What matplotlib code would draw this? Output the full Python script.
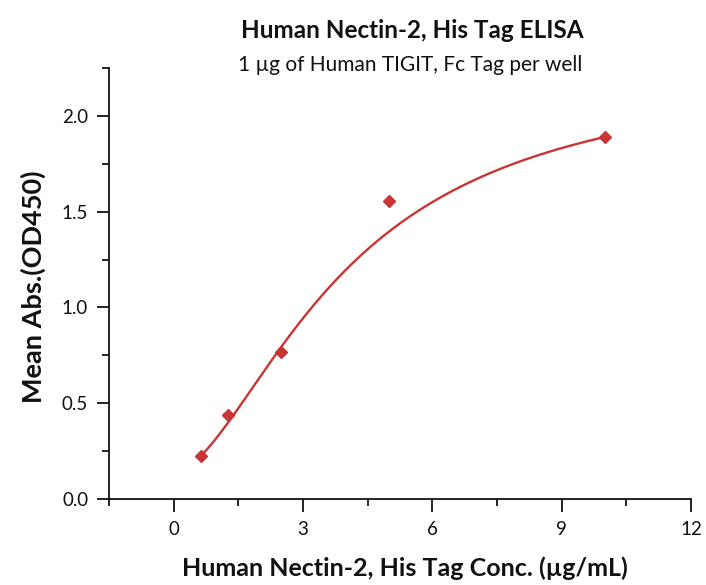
import numpy as np
import matplotlib
matplotlib.use("Agg")
import matplotlib.pyplot as plt
from matplotlib.ticker import MultipleLocator

# Data
conc = [0.625, 1.25, 2.5, 5.0, 10.0]
absorb = [0.224, 0.438, 0.766, 1.558, 1.892]

# 4PL fit parameters (bottom, top, EC50, Hill slope)
fit_bottom = 0.137
fit_top = 2.259
fit_ec50 = 4.0
fit_hill = 1.7

title = "Human Nectin-2, His Tag ELISA"
subtitle = "1 \u00b5g of Human TIGIT, Fc Tag per well"
xlabel = "Human Nectin-2, His Tag Conc. (\u00b5g/mL)"
ylabel = "Mean Abs.(OD450)"
xticks = [0, 3, 6, 9, 12]
yticks = [0.0, 0.5, 1.0, 1.5, 2.0]

color = "#C93434"
ink = "#111111"
plt.rcParams['font.family'] = ['Lato', 'DejaVu Sans']

fig = plt.figure(figsize=(7.06, 5.85), dpi=100)
ax = fig.add_axes([109/706, 1-499/585, (691-109)/706, (499-68)/585])

xf = np.linspace(min(conc), max(conc), 300)
yf = fit_top + (fit_bottom - fit_top) / (1 + (xf / fit_ec50) ** fit_hill)
ax.plot(xf, yf, color=color, lw=1.7, zorder=2)
ax.plot(conc, absorb, linestyle='none', marker='D', markersize=6.5, color=color, zorder=3)

ax.set_xlim(-1.5, 12)
ax.set_ylim(0, 2.25)
ax.set_xticks(xticks)
ax.set_yticks(yticks)
ax.set_xticklabels([str(t) for t in xticks])
ax.set_yticklabels([f"{t:.1f}" for t in yticks])
ax.xaxis.set_minor_locator(MultipleLocator(1.5))
ax.yaxis.set_minor_locator(MultipleLocator(0.25))

for s in ['top', 'right']:
    ax.spines[s].set_visible(False)
for s in ['left', 'bottom']:
    ax.spines[s].set_linewidth(1.3)
    ax.spines[s].set_color(ink)

ax.tick_params(which='major', direction='out', length=9, width=1.3, labelsize=13.5, pad=6, colors=ink)
ax.tick_params(which='minor', direction='out', length=4.7, width=1.3, colors=ink)
ax.tick_params(axis='x', which='major', pad=7)

fig.text(412/706, 1-30/585, title, ha='center', va='center', fontsize=17.5, fontweight='bold', color=ink)
fig.text(410/706, 1-65/585, subtitle, ha='center', va='center', fontsize=15, color=ink)
fig.text(405/706, 1-568/585, xlabel, ha='center', va='center', fontsize=18, fontweight='bold', color=ink)
fig.text(33/706, 1-287/585, ylabel, ha='center', va='center', rotation=90, fontsize=19.5, fontweight='bold', color=ink)

fig.savefig("out.png", dpi=100)
